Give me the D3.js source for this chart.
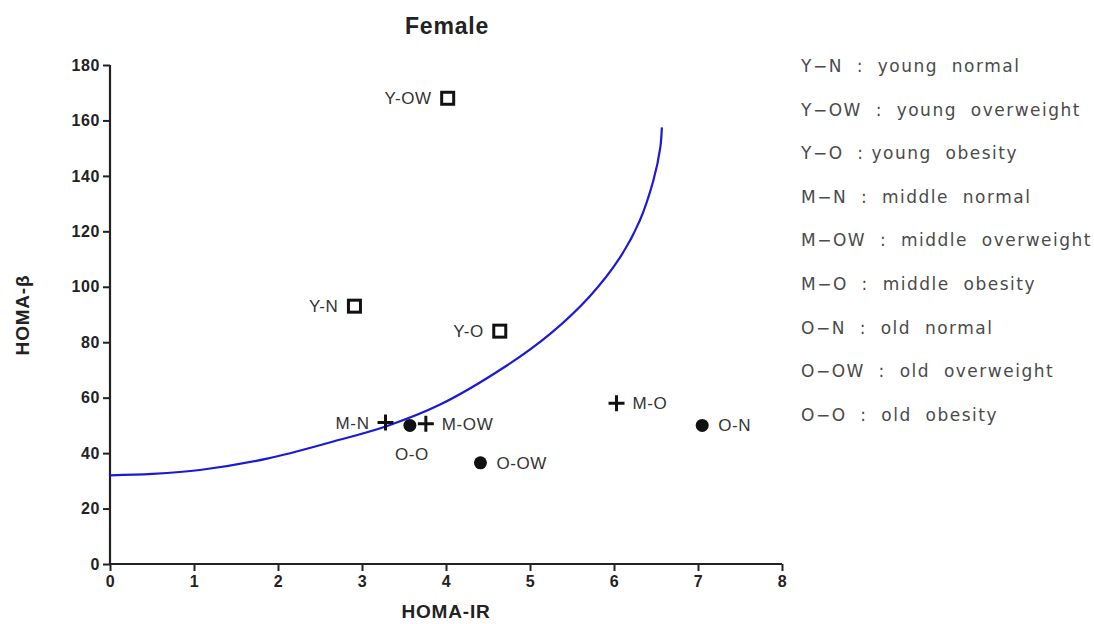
<!DOCTYPE html>
<html>
<head>
<meta charset="utf-8">
<script src="https://cdn.jsdelivr.net/npm/d3@7"></script>
<style>
  body { margin: 0; background: #fff; }
  svg { display: block; }
</style>
</head>
<body>
<svg width="1094" height="624"></svg>
<script>
// group labels, HOMA-IR (x) and HOMA-beta (y), marker type
var groups   = ["Y-N", "Y-OW", "Y-O", "M-N", "M-OW", "M-O", "O-N", "O-OW", "O-O"];
var homaIR   = [2.91, 4.02, 4.64, 3.28, 3.76, 6.03, 7.05, 4.41, 3.57];
var homaBeta = [93, 168, 84, 51, 50.6, 58, 50, 36.5, 50];
var shapes   = ["square", "square", "square", "plus", "plus", "plus", "circle", "circle", "circle"];
var labelPos = ["left", "left", "left", "left", "right", "right", "right", "right", "below"];

// blue curve, points
var curveX = [0, 0.5, 1.07, 1.87, 2.66, 3.3, 3.93, 4.72, 5.24, 5.71, 6.07, 6.31, 6.47, 6.55, 6.57];
var curveY = [32, 32.5, 33.9, 38.0, 44.2, 49.8, 57.5, 71.5, 83, 96.5, 110.5, 124.1, 138.5, 150, 157.5];

var xTicks = [0, 1, 2, 3, 4, 5, 6, 7, 8];
var yTicks = [0, 20, 40, 60, 80, 100, 120, 140, 160, 180];

var legendText = [
  "Y\u2212N  :  young  normal",
  "Y\u2212OW  :  young  overweight",
  "Y\u2212O  : young  obesity",
  "M\u2212N  :  middle  normal",
  "M\u2212OW  :  middle  overweight",
  "M\u2212O  :  middle  obesity",
  "O\u2212N  :  old  normal",
  "O\u2212OW  :  old  overweight",
  "O\u2212O  :  old  obesity"
];

(function() {
    var svg = d3.select("svg");
    var font = "Liberation Sans, Arial, sans-serif";
    var margin = {top: 65, left: 110};
    var width = 782 - margin.left;
    var height = 564 - margin.top;

    var g = svg.append("g").attr("transform", "translate(" + margin.left + "," + margin.top + ")");

    var x = d3.scaleLinear().domain([0, 8]).range([0, width]);
    var y = d3.scaleLinear().domain([0, 180]).range([height, 0]);

    //Axes
    var xAxis = g.append("g")
        .attr("transform", "translate(0," + height + ")")
        .call(d3.axisBottom(x).tickValues(xTicks).tickSize(7).tickPadding(5).tickFormat(d3.format("d")));
    var yAxis = g.append("g")
        .call(d3.axisLeft(y).tickValues(yTicks).tickSize(7).tickPadding(3).tickFormat(d3.format("d")));

    [xAxis, yAxis].forEach(function(a) {
        a.select(".domain").attr("stroke", "#222").attr("stroke-width", 2.2);
        a.selectAll(".tick line").attr("stroke", "#222").attr("stroke-width", 2);
        a.selectAll(".tick text")
            .attr("fill", "#222")
            .style("font-family", font)
            .style("font-size", "16px")
            .style("letter-spacing", "0.6px")
            .style("font-weight", "bold");
    });
    xAxis.select(".domain").attr("d", "M0,0H" + width);
    yAxis.select(".domain").attr("d", "M0," + height + "V0");

    //Curve
    var pts = curveX.map(function(v, i) { return [v, curveY[i]]; });
    g.append("path")
        .datum(pts)
        .attr("fill", "none")
        .attr("stroke", "#1a1ad6")
        .attr("stroke-width", 2.2)
        .attr("d", d3.line()
            .x(function(d) { return x(d[0]); })
            .y(function(d) { return y(d[1]); })
            .curve(d3.curveCatmullRom));

    //Points
    var data = groups.map(function(name, i) {
        return {name: name, ir: homaIR[i], beta: homaBeta[i], shape: shapes[i], pos: labelPos[i]};
    });

    var marks = g.selectAll(".pt").data(data).enter().append("g")
        .attr("class", "pt")
        .attr("transform", function(d) { return "translate(" + x(d.ir) + "," + y(d.beta) + ")"; });

    marks.filter(function(d) { return d.shape === "square"; })
      .append("rect")
        .attr("x", -6).attr("y", -6).attr("width", 12).attr("height", 12)
        .attr("fill", "#fff").attr("stroke", "#111").attr("stroke-width", 3);

    marks.filter(function(d) { return d.shape === "plus"; })
      .append("path")
        .attr("d", "M-8,0H8M0,-8V8")
        .attr("stroke", "#111").attr("stroke-width", 3);

    marks.filter(function(d) { return d.shape === "circle"; })
      .append("circle")
        .attr("r", 6.5)
        .attr("fill", "#111");

    marks.append("text")
        .attr("x", function(d) { return d.pos === "left" ? -16 : (d.pos === "right" ? 16 : 2); })
        .attr("y", function(d) { return d.pos === "below" ? 35 : 6; })
        .attr("text-anchor", function(d) { return d.pos === "left" ? "end" : (d.pos === "right" ? "start" : "middle"); })
        .attr("fill", "#333")
        .style("font-family", font)
        .style("font-size", "17px")
        .style("letter-spacing", "0.6px")
        .text(function(d) { return d.name; });

    //Titles
    svg.append("text")
        .attr("x", 447).attr("y", 34)
        .attr("text-anchor", "middle")
        .attr("fill", "#222")
        .style("font-family", font)
        .style("font-size", "23px").style("font-weight", "bold")
        .style("letter-spacing", "0.8px")
        .text("Female");

    svg.append("text")
        .attr("x", 446).attr("y", 618)
        .attr("text-anchor", "middle")
        .attr("fill", "#222")
        .style("font-family", font)
        .style("font-size", "19px").style("font-weight", "bold")
        .style("letter-spacing", "0.8px")
        .text("HOMA-IR");

    svg.append("text")
        .attr("transform", "translate(29,315) rotate(-90)")
        .attr("text-anchor", "middle")
        .attr("fill", "#222")
        .style("font-family", font)
        .style("font-size", "19px").style("font-weight", "bold")
        .style("letter-spacing", "0.8px")
        .text("HOMA-\u03b2");

    //Legend
    svg.append("g").selectAll("text").data(legendText).enter().append("text")
        .attr("x", 801)
        .attr("y", function(d, i) { return 72 + i * 43.6; })
        .attr("fill", "#4a4a4a")
        .style("font-family", "DejaVu Sans, sans-serif")
        .style("font-size", "17px")
        .style("letter-spacing", "1.5px")
        .style("white-space", "pre")
        .attr("xml:space", "preserve")
        .text(function(d) { return d; });
})();
</script>
</body>
</html>
